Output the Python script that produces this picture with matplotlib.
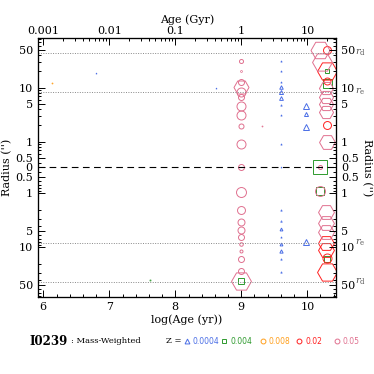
import numpy as np
import matplotlib
matplotlib.use('Agg')
import matplotlib.pyplot as plt
from matplotlib.lines import Line2D
import matplotlib.transforms as mtransforms

plt.rcParams['font.family'] = 'DejaVu Serif'
plt.rcParams['mathtext.fontset'] = 'dejavuserif'

# radius is in arcsec; negative radius = other side of the galaxy (lower half)
# wt = mass weight (%) -> marker size
z_labels = ['0.0004', '0.004', '0.008', '0.02', '0.05']
z_colors = ['#4a6ee6', '#2e9a2e', '#ff9f1c', '#ff2020', '#e0708f']
z_markers = ['^', 's', 'o', 'o', 'o']

age_z1 = [6.8, 8.61, 9.6, 9.6, 9.6, 9.6, 9.6, 9.6, 9.6, 9.6, 9.6, 9.6, 9.6, 9.6, 9.6, 9.6, 9.6, 9.6,
          9.6, 9.6, 9.98, 9.98, 9.98, 9.98]
rad_z1 = [19, 10, 31.5, 20, 10.3, 8.2, 6.4, 3.1, 0.91, 0, -2.0, -3.3, -4.6, -6.4, -8.7, -11.5, -16.5,
          -28.2, 13.0, 4.7, 4.6, 3.3, 1.9, -8.0]
wt_z1 = [0.12, 0.12, 0.2, 0.2, 1.4, 1.8, 1.6, 0.2, 0.2, 0.12, 0.25, 0.3, 0.9, 0.2, 0.9, 1.2, 0.25,
         0.25, 0.2, 0.25, 2.8, 1.8, 2.8, 3.5]

age_z2 = [7.62, 9.0, 10.3, 10.3, 10.2, 10.2, 10.3]
rad_z2 = [-40, -41.6, 20, 12.4, 0, -0.91, -16.5]
wt_z2 = [0.12, 4, 1.8, 9, 22, 7, 5.4]

age_z3 = [6.13]
rad_z3 = [12.4]
wt_z3 = [0.12]

age_z4 = [10.3, 10.3, 10.3, 10.3, 10.28, 10.28, 10.3, 10.3]
rad_z4 = [49, 20, 13.6, 2.0, -8.3, -11.3, -15.5, -28.2]
wt_z4 = [7, 44, 5.4, 7, 28, 28, 9, 44]

age_z5 = [9.31, 9.0, 9.0, 9.0, 9.0, 9.0, 9.0, 9.0, 9.0, 9.0, 9.0, 9.0,
          9.0, 9.0, 9.0, 9.0, 9.0, 9.0, 9.0, 9.0, 9.0, 9.0,
          10.2, 10.22, 10.28, 10.28, 10.28, 10.28, 10.3, 10.2, 10.2,
          10.28, 10.28, 10.28]
rad_z5 = [1.94, 31.5, 20, 12.9, 10.5, 8.4, 6.8, 4.6, 3.1, 1.94, 0.91, 0,
          -0.94, -2.0, -3.4, -4.8, -6.4, -8.7, -11.8, -16.5, -27.4, -41.6,
          50, 30.6, 9.9, 6.8, 5.0, 3.6, 1.0, 0, -0.91,
          -2.2, -3.6, -5.3]
wt_z5 = [0.12, 1.8, 0.4, 4, 25, 9, 4, 9, 9, 2.8, 9, 4,
         11, 7, 5.4, 5.4, 4, 1.4, 1, 4, 4, 44,
         40, 44, 22, 22, 22, 22, 28, 1.8, 11,
         28, 28, 28]

series = [(age_z1, rad_z1, wt_z1), (age_z2, rad_z2, wt_z2), (age_z3, rad_z3, wt_z3),
          (age_z4, rad_z4, wt_z4), (age_z5, rad_z5, wt_z5)]

r_e = 8.3
r_d = 44.0
r0 = 1.0 / 3.0
rad_ticks = [50, 10, 5, 1, 0.5, 0, -0.5, -1, -5, -10, -50]
rad_minor = [80, 70, 60, 40, 30, 20, 9, 8, 7, 6, 4, 3, 2, 0.9, 0.8, 0.7, 0.6, 0.4]
age_gyr_ticks = [0.001, 0.01, 0.1, 1, 10]


def ypos(r):
    r = np.asarray(r, dtype=float)
    return np.sign(r) * np.log10(np.maximum(np.abs(r), r0) / r0)


fig = plt.figure(figsize=(3.74, 3.74), dpi=100)
ax = fig.add_axes([0.1008, 0.2067, 0.7976, 0.6909])

for (age, rad, wt), col, mk in zip(series, z_colors, z_markers):
    age = np.asarray(age)
    wt = np.asarray(wt, dtype=float)
    y = ypos(rad)
    ms = 3.0 * np.sqrt(wt) * 0.72
    for i in range(len(age)):
        m = mk
        if mk == 'o' and ms[i] > 8:
            m = 'H'
        ax.plot(age[i], y[i], marker=m, ms=ms[i], mfc='none', mec=col,
                mew=0.7 if ms[i] > 2 else 0.5, ls='none')

ax.axhline(0, color='k', lw=0.8, ls=(0, (6, 4)))
for r in [r_e, r_d, -r_e, -r_d]:
    ax.axhline(ypos(r), color='#888888', lw=0.7, ls=(0, (1, 1.5)))

ax.set_xlim(5.915, 10.435)
ylim = 129.2 / 54.0
ax.set_ylim(-ylim, ylim)

ax.set_xticks([6, 7, 8, 9, 10])
ax.set_xticks(np.arange(6.0, 10.45, 0.2), minor=True)
ax.set_xlabel('log(Age (yr))', fontsize=8, labelpad=2)

ax.set_yticks(ypos(rad_ticks))
ax.set_yticklabels([('%g' % abs(v)) for v in rad_ticks])
ax.set_yticks(np.concatenate([ypos(rad_minor), -ypos(rad_minor)]), minor=True)
ax.set_ylabel("Radius ('')", fontsize=8, labelpad=2)

for a in [ax]:
    a.tick_params(which='both', direction='in', labelsize=8, width=0.7)
    a.tick_params(which='major', length=5)
    a.tick_params(which='minor', length=2.5)

axr = ax.twinx()
axr.set_ylim(ax.get_ylim())
axr.set_yticks(ypos(rad_ticks))
axr.set_yticklabels([('%g' % abs(v)) for v in rad_ticks])
axr.set_yticks(np.concatenate([ypos(rad_minor), -ypos(rad_minor)]), minor=True)
axr.set_ylabel("Radius ('')", fontsize=8, rotation=-90, labelpad=10)
axr.tick_params(which='both', direction='in', labelsize=8, width=0.7)
axr.tick_params(which='major', length=5)
axr.tick_params(which='minor', length=2.5)

axt = ax.twiny()
axt.set_xlim(ax.get_xlim())
axt.set_xticks(np.log10(np.array(age_gyr_ticks) * 1e9))
axt.set_xticklabels([('%g' % v) for v in age_gyr_ticks])
mins = []
for d in [0.001, 0.01, 0.1, 1, 10]:
    for k in range(2, 10):
        v = np.log10(d * k * 1e9)
        if v < 10.435:
            mins.append(v)
axt.set_xticks(mins, minor=True)
axt.set_xlabel('Age (Gyr)', fontsize=8, labelpad=2)
axt.tick_params(which='both', direction='in', labelsize=8, width=0.7, pad=2)
axt.tick_params(which='major', length=5)
axt.tick_params(which='minor', length=2.5)

for a in [ax, axr, axt]:
    for s in a.spines.values():
        s.set_linewidth(0.8)

# r_e / r_d marks on the right side
tr = mtransforms.blended_transform_factory(ax.transAxes, ax.transData)
for r, lab in [(r_d, r'$r_{\rm d}$'), (r_e, r'$r_{\rm e}$'), (-r_e, r'$r_{\rm e}$'), (-r_d, r'$r_{\rm d}$')]:
    ax.text(1.063, ypos(r), lab, transform=tr, fontsize=7, color='#555555', va='center', ha='left')

# bottom caption
fig.text(0.08, 0.088, 'I0239', fontsize=8.5, fontweight='bold', va='center')
fig.text(0.19, 0.088, ': Mass-Weighted', fontsize=6, va='center')
fig.text(0.444, 0.088, 'Z =', fontsize=6, va='center')
leg_x = [0.500, 0.599, 0.703, 0.800, 0.901]
for x, lab, col, mk in zip(leg_x, z_labels, z_colors, z_markers):
    fig.add_artist(Line2D([x], [0.089], marker=mk, ms=3.5, mfc='none', mec=col, mew=0.7,
                          ls='none', transform=fig.transFigure))
    fig.text(x + 0.016, 0.088, lab, fontsize=5.5, color=col, va='center', family='DejaVu Sans')

fig.savefig('out.png', dpi=100)
